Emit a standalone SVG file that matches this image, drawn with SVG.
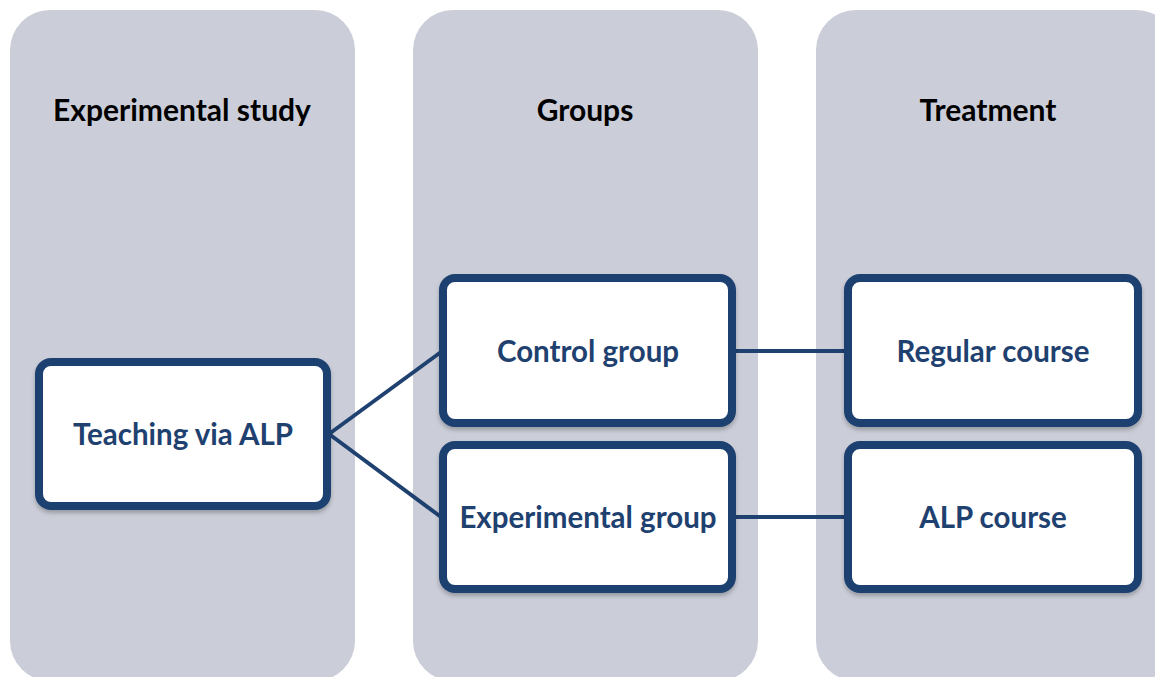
<svg xmlns="http://www.w3.org/2000/svg" width="1155" height="677" viewBox="0 0 1155 677">
<style>
.col{fill:#CBCED8}
.hdr{font-family:Lato,"Liberation Sans",sans-serif;font-weight:bold;font-size:30px;fill:#000;text-anchor:middle}
.box{fill:#fff;stroke:#1F4170;stroke-width:8;filter:url(#sh)}
.lbl{font-family:Lato,"Liberation Sans",sans-serif;font-weight:bold;font-size:29.5px;fill:#1F4170;text-anchor:middle}
.con{stroke:#1F4170;stroke-width:4;fill:none}
</style>
<defs>
<filter id="sh" x="-10%" y="-10%" width="120%" height="130%">
<feDropShadow dx="0" dy="3" stdDeviation="2" flood-color="#000" flood-opacity="0.25"/>
</filter>
</defs>
<rect width="1155" height="677" fill="#fff"/>
<g id="columns">
<rect class="col" x="10" y="10" width="345" height="671" rx="40"/>
<rect class="col" x="413" y="10" width="345" height="671" rx="40"/>
<rect class="col" x="816" y="10" width="360" height="671" rx="40"/>
<text class="hdr" x="182" y="121">Experimental study</text>
<text class="hdr" x="585" y="121">Groups</text>
<text class="hdr" x="988" y="121">Treatment</text>
</g>
<g id="connectors">
<line class="con" x1="329" y1="434" x2="441" y2="352"/>
<line class="con" x1="329" y1="434" x2="441" y2="517"/>
<line class="con" x1="734" y1="351" x2="846" y2="351"/>
<line class="con" x1="734" y1="517" x2="846" y2="517"/>
</g>
<g id="teaching">
<rect class="box" x="39" y="362" width="288" height="144" rx="12"/>
<text class="lbl" x="183" y="445">Teaching via ALP</text>
</g>
<g id="control">
<rect class="box" x="443" y="278" width="289" height="145" rx="12"/>
<text class="lbl" x="588" y="362">Control group</text>
</g>
<g id="experimental">
<rect class="box" x="443" y="445" width="289" height="144" rx="12"/>
<text class="lbl" x="588" y="528">Experimental group</text>
</g>
<g id="regular">
<rect class="box" x="848" y="278" width="290" height="145" rx="12"/>
<text class="lbl" x="993" y="362">Regular course</text>
</g>
<g id="alp">
<rect class="box" x="848" y="445" width="290" height="144" rx="12"/>
<text class="lbl" x="993" y="528">ALP course</text>
</g>
</svg>
